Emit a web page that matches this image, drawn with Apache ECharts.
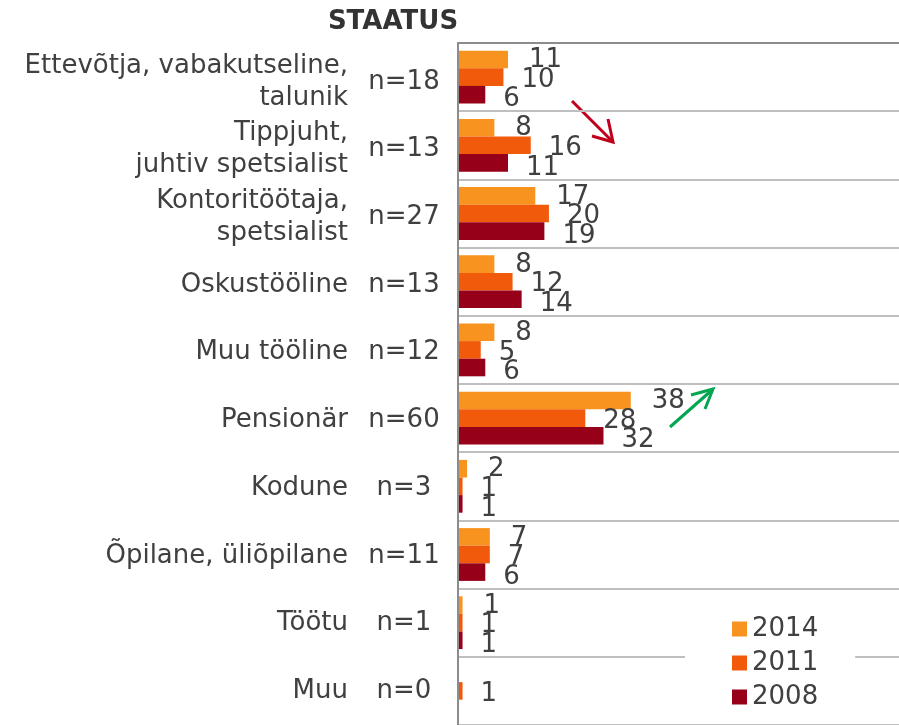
<!DOCTYPE html>
<html>
<head>
<meta charset="utf-8">
<script src="https://cdn.jsdelivr.net/npm/echarts@6/dist/echarts.min.js"></script>
<style>
  html, body { margin: 0; padding: 0; background: #fff; }
  #chart { width: 899px; height: 725px; }
</style>
</head>
<body>
<div id="chart"></div>
<script>
// Categories (top to bottom) and group sizes
const categories = [
    "Ettevõtja, vabakutseline,\ntalunik",
    "Tippjuht,\njuhtiv spetsialist",
    "Kontoritöötaja,\nspetsialist",
    "Oskustööline",
    "Muu tööline",
    "Pensionär",
    "Kodune",
    "Õpilane, üliõpilane",
    "Töötu",
    "Muu"
];
const groupN = ["n=18", "n=13", "n=27", "n=13", "n=12", "n=60", "n=3", "n=11", "n=1", "n=0"];

// Series values
const years = ["2014", "2011", "2008"];
const values2014 = [11, 8, 17, 8, 8, 38, 2, 7, 1, null];
const values2011 = [10, 16, 20, 12, 5, 28, 1, 7, 1, 1];
const values2008 = [6, 11, 19, 14, 6, 32, 1, 6, 1, null];

const colors = ["#F7931E", "#F15A0A", "#960018"];
const textColor = "#404040";
const font = "DejaVu Sans";

const chart = echarts.init(document.getElementById("chart"));

function barSeries(name, data, color, dx, dy) {
    return {
        name: name,
        type: "bar",
        data: data,
        barWidth: 17.6,
        barGap: "0%",
        itemStyle: { color: color },
        label: {
            show: true,
            position: "right",
            distance: 18,
            offset: [dx, dy],
            color: textColor,
            fontFamily: font,
            fontSize: 26
        }
    };
}

// label-only axes live in a second grid, nudged a few px down
function labelAxis(data, margin, align, lineHeight) {
    return {
        type: "category",
        gridIndex: 1,
        data: data,
        inverse: true,
        position: "left",
        axisLine: { show: false },
        axisTick: { show: false },
        splitLine: { show: false },
        axisLabel: {
            interval: 0,
            margin: margin,
            align: align,
            color: textColor,
            fontFamily: font,
            fontSize: 26,
            lineHeight: lineHeight
        }
    };
}

chart.setOption({
    animation: false,
    title: {
        text: "STAATUS",
        left: 388,
        top: 4,
        textAlign: "center",
        textStyle: { fontFamily: font, fontSize: 26, fontWeight: "bold", color: "#333" }
    },
    grid: [
        { left: 458, right: 0, top: 43, bottom: -4, containLabel: false },
        { left: 458, right: 0, top: 48, bottom: -9, containLabel: false }
    ],
    legend: {
        data: years,
        orient: "vertical",
        left: 685,
        top: 602,
        itemWidth: 15,
        itemHeight: 15,
        itemGap: 4,
        icon: "rect",
        backgroundColor: "#fff",
        padding: [12, 37, 8, 47],
        textStyle: { fontFamily: font, fontSize: 26, color: textColor, lineHeight: 30 }
    },
    xAxis: [
        {
            type: "value",
            position: "top",
            min: 0,
            max: 97,
            z: 3,
            axisLine: { show: true, lineStyle: { color: "#8c8c8c", width: 2 } },
            axisTick: { show: false },
            axisLabel: { show: false },
            splitLine: { show: false }
        },
        { type: "value", gridIndex: 1, show: false, min: 0, max: 97 }
    ],
    yAxis: [
        {
            type: "category",
            data: categories,
            inverse: true,
            z: 3,
            axisLine: { show: true, lineStyle: { color: "#8c8c8c", width: 2 } },
            axisTick: { show: false },
            axisLabel: { show: false },
            splitLine: { show: true, interval: 0, lineStyle: { color: "#BFBFBF", width: 2 } }
        },
        labelAxis(categories, 110, "right", 32),
        labelAxis(groupN, 54, "center", 32)
    ],
    series: [
        barSeries(years[0], values2014, colors[0], 3, 1),
        barSeries(years[1], values2011, colors[1], 0, 3),
        barSeries(years[2], values2008, colors[2], 0, 5)
    ],
    graphic: [
        // trend arrows (annotations)
        {
            type: "group",
            children: [
                { type: "line", shape: { x1: 572, y1: 101, x2: 612, y2: 141 },
                  style: { stroke: "#C0001A", lineWidth: 3 } },
                { type: "polyline", shape: { points: [[608, 119], [613, 142], [592, 136]] },
                  style: { stroke: "#C0001A", lineWidth: 3, fill: null } }
            ]
        },
        {
            type: "group",
            children: [
                { type: "line", shape: { x1: 670, y1: 427, x2: 712, y2: 390 },
                  style: { stroke: "#00A650", lineWidth: 3 } },
                { type: "polyline", shape: { points: [[691, 395], [713, 389], [705, 409]] },
                  style: { stroke: "#00A650", lineWidth: 3, fill: null } }
            ]
        }
    ]
});
</script>
</body>
</html>
